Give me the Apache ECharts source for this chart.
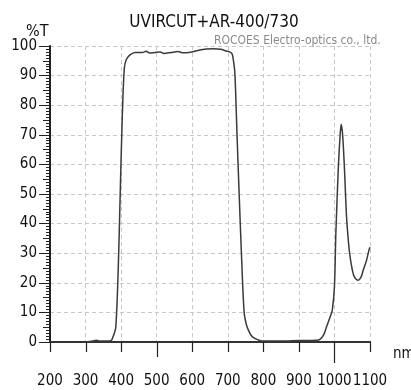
<!DOCTYPE html>
<html><head><meta charset="utf-8">
<script src="https://cdn.jsdelivr.net/npm/echarts@6/dist/echarts.min.js"></script>
<style>html,body{margin:0;padding:0;background:#fff}#c{width:411px;height:390px}</style>
</head><body><div id="c"></div>
<script>
const wavelength = [300,320,330,340,360,372,378,385,392,397,403,409,415,425,440,460,470,480,495,510,520,540,560,575,590,610,625,640,660,680,695,705,712,716,720,726,732,740,746,752,758,766,776,790,800,850,900,950,960,970,978,988,994,1000,1004,1011,1016,1019,1023,1028,1034,1040,1044,1050,1056,1067,1075,1081,1090,1097,1100];
const transmission = [0,0.3,0.6,0.3,0.3,0.5,2,5,25,48,75,92.5,95.5,97,97.8,97.8,98.2,97.6,97.8,98,97.5,97.8,98.1,97.7,97.8,98.3,98.7,99,99.1,98.9,98.3,98,97.4,95,90.8,70,50,25,10,6,4,2.2,1.2,0.5,0.3,0.3,0.5,0.6,1,2.5,5.2,8.5,10.8,18.7,36.8,59,70,73.6,70,59,42.3,33,28.8,24.5,22,20.9,22,24.3,27.5,31,32];
const xTickValues = [200,300,400,500,600,700,800,900,1000,1100];
const titleText = 'UVIRCUT+AR-400/730';
const subText = 'ROCOES Electro-optics co., ltd.';

const FONT = "'DejaVu Sans Condensed', 'Liberation Sans Narrow', sans-serif";
const chart = echarts.init(document.getElementById('c'), null, {renderer: 'canvas'});
const dash = {color: '#c8c8c8', type: [4, 3], width: 1};
const plain = v => String(v);
chart.setOption({
  animation: false,
  grid: {left: 50, right: 41, top: 46, bottom: 48},
  title: [
    {text: titleText, left: 209, top: 9, textAlign: 'center', textStyle: {fontFamily: FONT, fontSize: 17, fontWeight: 'normal', color: '#111'}},
    {text: subText, left: 209, top: 30, textStyle: {fontFamily: FONT, fontSize: 12, fontWeight: 'normal', color: '#8a8a8a'}},
    {text: '%T', left: 21, top: 19, textStyle: {fontFamily: FONT, fontSize: 16, fontWeight: 'normal', color: '#111'}},
    {text: 'nm', left: 388, top: 342, textStyle: {fontFamily: FONT, fontSize: 15, fontWeight: 'normal', color: '#111'}}
  ],
  xAxis: {
    type: 'value', min: 200, max: 1100, interval: 100, position: 'bottom',
    axisLine: {lineStyle: {color: '#333', width: 2}},
    axisTick: {show: false},
    axisLabel: {color: '#111', fontFamily: FONT, fontSize: 15, margin: 32, formatter: plain, showMinLabel: true, showMaxLabel: true, hideOverlap: false},
    splitLine: {show: true, lineStyle: dash}
  },
  yAxis: [
    {
      type: 'value', min: 0, max: 100, interval: 10, position: 'left',
      axisLine: {show: true, lineStyle: {color: '#222', width: 2}},
      axisTick: {show: true, length: 11, lineStyle: {color: '#222', width: 1}},
      minorTick: {show: true, splitNumber: 10, length: 4, lineStyle: {color: '#222', width: 1}},
      axisLabel: {color: '#111', fontFamily: FONT, fontSize: 15, margin: 13, formatter: plain},
      splitLine: {show: true, lineStyle: dash}
    },
    {
      type: 'value', min: 0, max: 100, interval: 5, position: 'left',
      axisLine: {show: false},
      axisTick: {show: true, length: 7, lineStyle: {color: '#222', width: 1}},
      axisLabel: {show: false}, splitLine: {show: false}
    }
  ],
  series: [
    {
      type: 'line',
      xAxisIndex: 0, yAxisIndex: 0,
      data: wavelength.map((w, i) => [w, transmission[i]]),
      showSymbol: false,
      smooth: 0.3,
      lineStyle: {color: '#3a3a3a', width: 1.5}
    },
    {
      type: 'custom',
      xAxisIndex: 0, yAxisIndex: 0,
      clip: false, silent: true, z: 10,
      data: xTickValues.map(v => [v]),
      renderItem: function (params, api) {
        const v = api.value(0);
        const p = api.coord([v, 0]);
        const len = v === 1000 ? 21 : (v === 500 ? 15 : 10);
        const x = Math.round(p[0]) + 0.5;
        return {type: 'line', shape: {x1: x, y1: p[1], x2: x, y2: p[1] + len}, style: {stroke: '#222', lineWidth: 1.2}};
      }
    }
  ]
});
</script></body></html>
